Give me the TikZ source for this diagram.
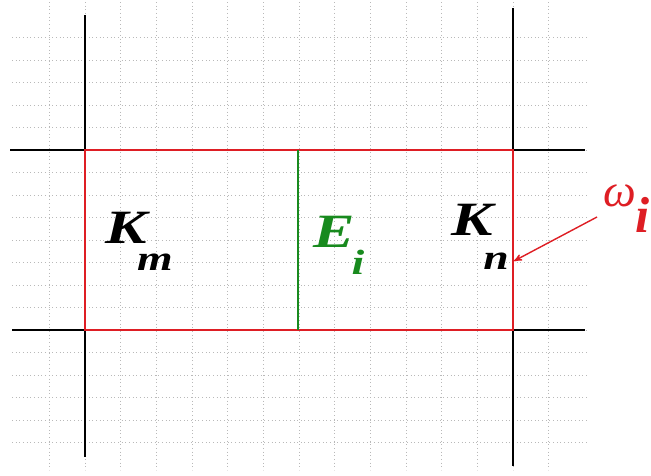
\documentclass[tikz,border=0pt]{standalone}
\usepackage{fontspec}
\setmainfont{Liberation Serif}
\usetikzlibrary{arrows}
\definecolor{cellred}{RGB}{222,30,36}
\definecolor{edgegreen}{RGB}{24,138,30}
\newcommand{\wide}[1]{\scalebox{1.3}[1]{#1}}
\tikzset{
    grid line/.style={draw=gray!55, line width=0.6pt, dotted},
    axis line/.style={draw=black, line width=1.3pt},
    cell line/.style={draw=cellred, line width=1.1pt},
    edge line/.style={draw=edgegreen, line width=1.3pt},
    mark line/.style={draw=cellred, line width=1pt, ->, >=stealth'},
    big lab/.style={inner sep=0pt, font=\fontsize{34}{38}\selectfont\bfseries\itshape},
    sub lab/.style={inner sep=0pt, font=\fontsize{25}{28}\selectfont\bfseries\itshape}
}

\begin{document}
\begin{tikzpicture}[x=0.025cm, y=-0.025cm]
  \useasboundingbox (0,0) rectangle (651,475);
  \clip (0,0) rectangle (651,475);

  % grid
  \foreach \i in {-1,...,13}
    \draw [grid line] (85+35.67*\i,2) -- (85+35.67*\i,470);
  \foreach \j in {-5,...,13}
    \draw [grid line] (12,150+22.5*\j) -- (588,150+22.5*\j);

  % corners of the two cells
  \coordinate (A00) at (85,330);
  \coordinate (A10) at (513,330);
  \coordinate (A11) at (513,150);
  \coordinate (A01) at (85,150);
  \coordinate (E0) at (298,330);
  \coordinate (E1) at (298,150);

  % outer mesh lines
  \draw [axis line] (A01) -- ++(0,-135);
  \draw [axis line] (A00) -- ++(0,127);
  \draw [axis line] (A11) -- ++(0,-142);
  \draw [axis line] (A10) -- ++(0,136);
  \draw [axis line] (A01) -- ++(-75,0);
  \draw [axis line] (A00) -- ++(-73,0);
  \draw [axis line] (A11) -- ++(72,0);
  \draw [axis line] (A10) -- ++(72,0);

  % cells
  \draw [cell line] (A00) rectangle (A11);
  \draw [edge line] (E0) -- (E1);

  % labels
  \node [big lab] (Km) at (126,228) {\wide{K}};
  \node [sub lab] (m) at (155,262) {\wide{m}};
  \node [big lab, text=edgegreen] (Ei) at (334,232) {\wide{E}};
  \node [sub lab, text=edgegreen] (i) at (358,262) {\wide{i}};
  \node [big lab] (Kn) at (472,220) {\wide{K}};
  \node [sub lab] (n) at (496,261) {\wide{n}};
  \node [inner sep=0pt, text=cellred,
    font=\fontsize{33}{36}\selectfont\itshape] (omega) at (620,196) {ω};
  \node [inner sep=0pt, anchor=base east, text=cellred,
    font=\fontsize{36}{40}\selectfont\bfseries\itshape] (omi) at (650,232) {i};

  \coordinate (tail) at (597,217);
  \coordinate (hit) at (514,261);
  \draw [mark line] (tail) -- (hit);
\end{tikzpicture}
\end{document}
